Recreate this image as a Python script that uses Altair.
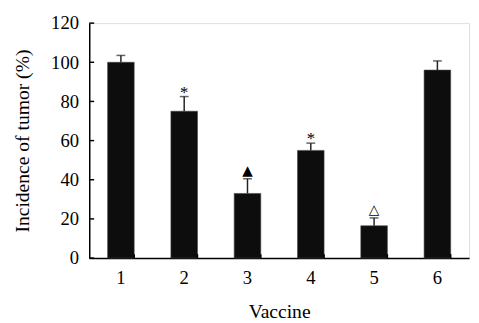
import altair as alt
import pandas as pd

vaccines = ["1", "2", "3", "4", "5", "6"]
incidence = [100, 75, 33, 55, 16.5, 96]
errors = [3.5, 7.5, 7.5, 3.7, 4, 4.7]
asterisks = ["", "*", "", "*", "", ""]
triangles = ["", "", "▲", "", "△", ""]
y_ticks = [0, 20, 40, 60, 80, 100, 120]

df = pd.DataFrame({
    "vaccine": vaccines,
    "incidence": incidence,
    "upper": [v + e for v, e in zip(incidence, errors)],
    "ast": asterisks,
    "tri": triangles,
})
ticks_df = pd.DataFrame({"t": y_ticks})

FONT = "Liberation Serif"

x_axis = alt.Axis(title="Vaccine", labelAngle=0, ticks=False,
                  labelPadding=11, titlePadding=15)
y_axis = alt.Axis(title="Incidence of tumor (%)", values=y_ticks, ticks=False,
                  grid=False, labelPadding=11, titlePadding=19,
                  labelOverlap=False, labelFlush=False)
x_scale = alt.Scale(paddingInner=0.58, paddingOuter=0.29)
y_scale = alt.Scale(domain=[0, 120], nice=False)


def X(**kw):
    return alt.X("vaccine:N", sort=vaccines, scale=x_scale, axis=x_axis, **kw)


def Y(field):
    return alt.Y(field, scale=y_scale, axis=y_axis)


base = alt.Chart(df)

bars = base.mark_bar(color="#0d0d0d", stroke="#444", strokeWidth=0.6).encode(
    x=X(), y=Y("incidence:Q"))

err = base.mark_rule(color="#222", strokeWidth=1.5).encode(
    x=X(), y=Y("incidence:Q"), y2="upper:Q")
cap = base.mark_tick(color="#222", size=9, thickness=1.5).encode(
    x=X(), y=Y("upper:Q"))

ast = base.mark_text(font=FONT, fontSize=17, baseline="alphabetic", dy=1, color="black").encode(
    x=X(), y=Y("upper:Q"), text="ast:N")
tri = base.mark_text(font="DejaVu Sans", fontSize=14, baseline="alphabetic", dy=-4, color="black").encode(
    x=X(), y=Y("upper:Q"), text="tri:N")

yticks = alt.Chart(ticks_df).mark_rule(color="black", strokeWidth=1.5).encode(
    y=Y("t:Q"), x=alt.value(0), x2=alt.value(5))

xticks = base.mark_rule(color="black", strokeWidth=1.5).encode(
    x=X(bandPosition=1), y=alt.value(240), y2=alt.value(236))

chart = alt.layer(bars, err, cap, ast, tri, yticks, xticks).properties(
    width=388, height=240,
    autosize=alt.AutoSizeParams(type="none"),
    padding={"left": 83, "top": 12, "right": 2, "bottom": 68},
).configure_view(stroke=None).configure(background="white").configure_axis(
    domainColor="black", domainWidth=1.5,
    labelFont=FONT, labelFontSize=19, labelColor="black",
    titleFont=FONT, titleFontSize=20, titleFontWeight="normal", titleColor="black",
)

chart.save("out.html", embed_options={"renderer": "svg", "actions": False})
